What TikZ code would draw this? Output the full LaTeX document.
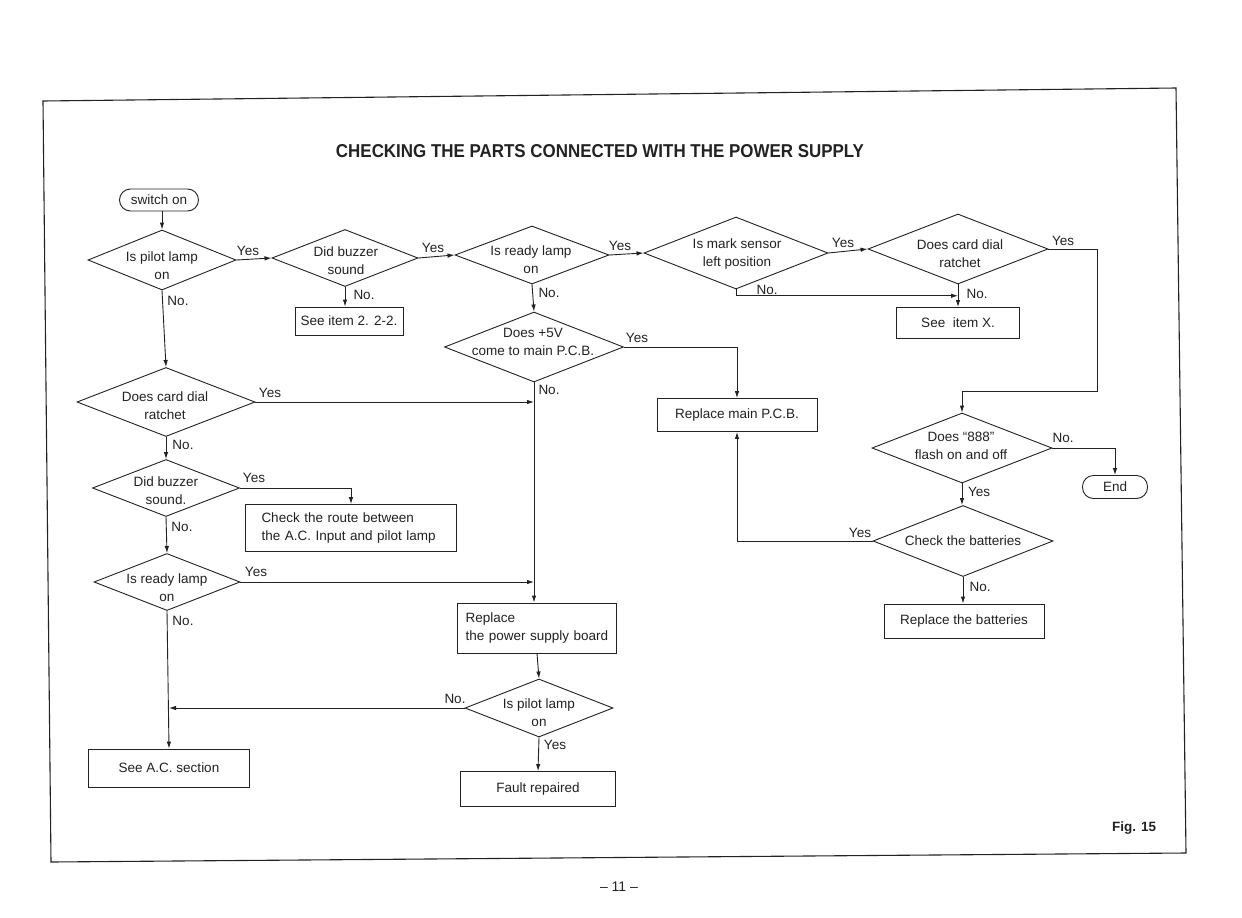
\documentclass[tikz,border=0pt]{standalone}
\usepackage{fontspec}
\usepackage{graphicx}
\setmainfont{Liberation Sans}
\usetikzlibrary{shapes.geometric,arrows.meta,calc}
\definecolor{ink}{HTML}{222222}
\tikzset{
  dia/.style 2 args={diamond, draw=ink, line width=0.9pt, inner sep=0pt, minimum width=#1, minimum height=#2},
  pbox/.style 2 args={rectangle, draw=ink, line width=0.9pt, inner sep=0pt, minimum width=#1, minimum height=#2, align=center},
  stad/.style 2 args={rectangle, rounded corners=11pt, draw=ink, line width=0.9pt, inner sep=0pt, minimum width=#1, minimum height=#2},
  dtext/.style={align=center, inner sep=0pt, text=ink},
  lbl/.style={inner sep=0pt, text=ink},
  arr/.style={draw=ink, line width=0.9pt, -{Latex[length=7pt,width=4.5pt]}},
}
\begin{document}
\begin{tikzpicture}[x=1pt,y=-1pt, font=\fontsize{13.5}{18}\selectfont, text=ink]
\useasboundingbox (0,0) rectangle (1242,918);
\fill[white] (0,0) rectangle (1242,918);
% frame
\draw[ink, line width=1.1pt] (43,101) -- (1176,88) -- (1186,853) -- (51,862) -- cycle;
% title
\node[lbl] (title) at (600,151) {\resizebox{528pt}{13pt}{\bfseries CHECKING THE PARTS CONNECTED WITH THE POWER SUPPLY}};
\node[lbl, font=\bfseries\fontsize{13.5}{16}\selectfont] (fig) at (1134,828) {Fig. 15};
\node[lbl, font=\fontsize{14}{16}\selectfont] (page) at (619,887) {-- 11 --};

% nodes
\node[stad={79}{22}] (son) at (159,200) {switch on};
\node[dia={148}{60}] (d1) at (162,260) {};
\node[dtext] (d1t) at (162,266) {Is pilot lamp\\on};
\node[dia={146}{57}] (d2) at (345,258) {};
\node[dtext] (d2t) at (346,261) {Did buzzer\\sound};
\node[dia={154}{58}] (d3) at (532,255) {};
\node[dtext] (d3t) at (531,260) {Is ready lamp\\on};
\node[dia={184}{72}] (d4) at (736,253) {};
\node[dtext] (d4t) at (737,254) {Is mark sensor\\left position};
\node[dia={180}{70}] (d5) at (958,249) {};
\node[dtext] (d5t) at (960,254) {Does card dial\\ratchet};
\node[pbox={108}{28}] (s22) at (349,321) {See item 2. 2-2.};
\node[pbox={123}{31}] (sX) at (958,323) {See\ \ item X.};
\node[dia={179}{70}] (d6) at (534,347) {};
\node[dtext] (d6t) at (533,342) {Does +5V\\come to main P.C.B.};
\node[pbox={160}{33}] (rmp) at (737,415) {Replace main P.C.B.};
\node[dia={180}{70}] (d888) at (962,448) {};
\node[dtext] (d888t) at (961,446) {Does ``888''\\flash on and off};
\node[stad={65}{23}] (endn) at (1115,487) {End};
\node[dia={180}{71}] (dcb) at (963,541) {};
\node[dtext] (dcbt) at (963,541) {Check the batteries};
\node[pbox={160}{34}] (rbat) at (964,621) {Replace the batteries};
\node[dia={178}{69}] (d7) at (166,402) {};
\node[dtext] (d7t) at (165,406) {Does card dial\\ratchet};
\node[dia={147}{57}] (d8) at (166,488) {};
\node[dtext] (d8t) at (166,491) {Did buzzer\\sound.};
\node[pbox={211}{47}, inner xsep=16pt, text width=179pt, align=left] (crt) at (351,528) {Check the route between\\the A.C. Input and pilot lamp};
\node[dia={146}{57}] (d9) at (167,582) {};
\node[dtext] (d9t) at (167,588) {Is ready lamp\\on};
\node[pbox={159}{50}, inner xsep=8pt, text width=143pt, align=left] (psb) at (537,628) {Replace\\the power supply board};
\node[dia={148}{58}] (d10) at (539,708) {};
\node[dtext] (d10t) at (539,713) {Is pilot lamp\\on};
\node[pbox={161}{38}] (acs) at (169,768) {See A.C. section};
\node[pbox={155}{35}] (fr) at (538,789) {Fault repaired};
\coordinate (c5) at (1097,391);

% connectors
\draw[arr] (son.south -| d1.north) -- (d1.north);
\draw[arr] (d1.east) -- (d2.west);
\draw[arr] (d2.east) -- (d3.west);
\draw[arr] (d3.east) -- (d4.west);
\draw[arr] (d4.east) -- (d5.west);
\draw[arr] (d2.south) -- (d2.south |- s22.north);
\draw[arr] (d5.south) -- (sX.north);
\draw[arr] (d4.south) |- ($(d5.south)!0.5!(sX.north)$);
\draw[arr] (d5.east) -| (c5) -| (d888.north);
\draw[arr] (d3.south) -- (d6.north);
\draw[arr] (d6.east) -| (rmp.north);
\draw[arr] (d6.south) -- (d6.south |- psb.north);
\draw[arr] (d7.east) -- (d7.east -| d6.south);
\draw[arr] (d9.east) -- (d9.east -| d6.south);
\draw[arr] (d1.south) -- (d7.north);
\draw[arr] (d7.south) -- (d8.north);
\draw[arr] (d8.east) -| (crt.north);
\draw[arr] (d8.south) -- (d9.north);
\draw[arr] (d9.south) -- (acs.north);
\draw[arr] (psb.south) -- (d10.north);
\draw[arr] (d10.west) -- (d10.west -| acs.north);
\draw[arr] (d10.south) -- (fr.north);
\draw[arr] (d888.east) -| (endn.north);
\draw[arr] (d888.south) -- (d888.south |- dcb.north);
\draw[arr] (dcb.west) -| (rmp.south);
\draw[arr] (dcb.south) -- (dcb.south |- rbat.north);

% labels
\node[lbl] (l1) at (248,251) {Yes};
\node[lbl] (l2) at (178,301) {No.};
\node[lbl] (l3) at (433,248) {Yes};
\node[lbl] (l4) at (364,295) {No.};
\node[lbl] (l5) at (620,246) {Yes};
\node[lbl] (l6) at (549,293) {No.};
\node[lbl] (l7) at (767,290) {No.};
\node[lbl] (l8) at (843,243) {Yes};
\node[lbl] (l9) at (1063,241) {Yes};
\node[lbl] (l10) at (977,294) {No.};
\node[lbl] (l11) at (637,338) {Yes};
\node[lbl] (l12) at (549,390) {No.};
\node[lbl] (l13) at (270,393) {Yes};
\node[lbl] (l14) at (183,445) {No.};
\node[lbl] (l15) at (254,478) {Yes};
\node[lbl] (l16) at (182,527) {No.};
\node[lbl] (l17) at (256,572) {Yes};
\node[lbl] (l18) at (183,621) {No.};
\node[lbl] (l19) at (455,699) {No.};
\node[lbl] (l20) at (555,745) {Yes};
\node[lbl] (l21) at (979,492) {Yes};
\node[lbl] (l22) at (1063,438) {No.};
\node[lbl] (l23) at (860,533) {Yes};
\node[lbl] (l24) at (980,587) {No.};
\end{tikzpicture}
\end{document}
